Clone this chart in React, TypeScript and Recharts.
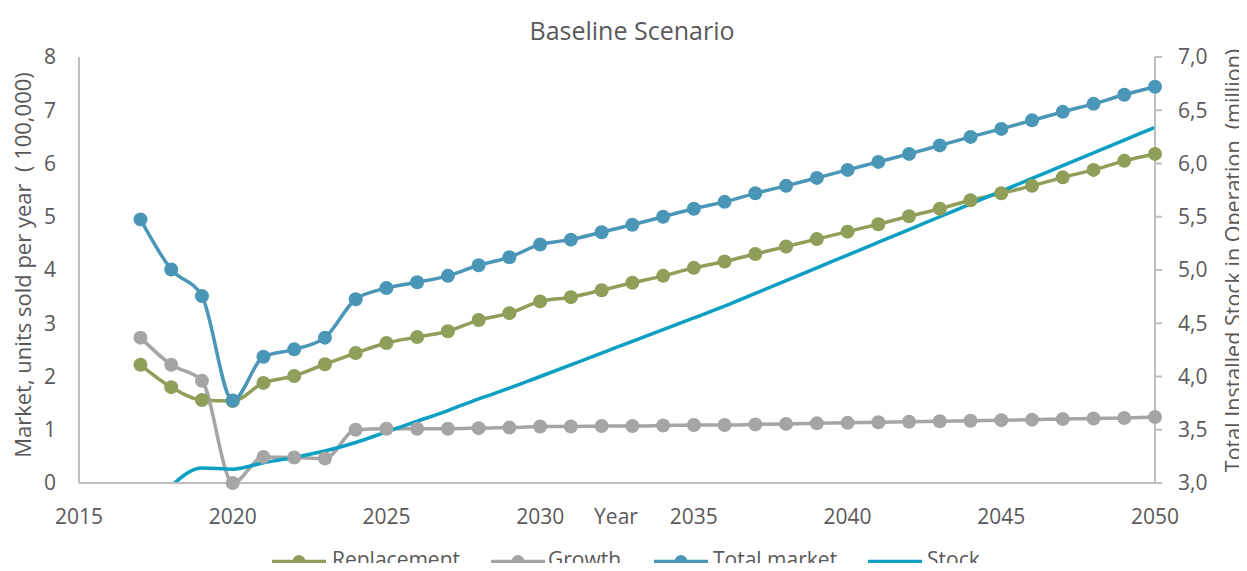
import React from 'react';
import { LineChart, Line, XAxis, YAxis, Legend } from 'recharts';

// ---------- data ----------
const years = [
  2017, 2018, 2019, 2020, 2021, 2022, 2023, 2024, 2025, 2026, 2027, 2028,
  2029, 2030, 2031, 2032, 2033, 2034, 2035, 2036, 2037, 2038, 2039, 2040,
  2041, 2042, 2043, 2044, 2045, 2046, 2047, 2048, 2049, 2050,
];

// Market, units sold per year (100,000)
const replacement = [
  2.22, 1.8, 1.56, 1.54, 1.88, 2.01, 2.23, 2.44, 2.63, 2.74, 2.85, 3.06,
  3.19, 3.41, 3.49, 3.62, 3.76, 3.89, 4.04, 4.16, 4.3, 4.44, 4.58, 4.72,
  4.86, 5.01, 5.15, 5.31, 5.44, 5.58, 5.74, 5.88, 6.05, 6.18,
];

const growth = [
  2.73, 2.22, 1.92, 0.0, 0.49, 0.48, 0.46, 1.0, 1.02, 1.02, 1.02, 1.03,
  1.04, 1.06, 1.06, 1.07, 1.07, 1.08, 1.09, 1.09, 1.1, 1.11, 1.12, 1.13,
  1.14, 1.15, 1.16, 1.17, 1.18, 1.19, 1.2, 1.21, 1.22, 1.24,
];

const totalMarket = [
  4.95, 4.01, 3.51, 1.55, 2.37, 2.51, 2.73, 3.45, 3.66, 3.77, 3.89, 4.09,
  4.24, 4.48, 4.57, 4.71, 4.85, 5.0, 5.15, 5.28, 5.44, 5.58, 5.73, 5.88,
  6.03, 6.18, 6.34, 6.5, 6.65, 6.81, 6.97, 7.12, 7.29, 7.44,
];

// Total installed stock in operation (million)
const stock = [
  2.6, 2.97, 3.14, 3.13, 3.19, 3.24, 3.3, 3.38, 3.48, 3.58, 3.68, 3.79,
  3.89, 4.0, 4.11, 4.22, 4.33, 4.44, 4.55, 4.66, 4.78, 4.9, 5.02, 5.14,
  5.26, 5.38, 5.5, 5.62, 5.74, 5.86, 5.98, 6.1, 6.22, 6.34,
];

const xTicks = [2015, 2020, 2025, 2030, 2035, 2040, 2045, 2050];
const leftTicks = [0, 1, 2, 3, 4, 5, 6, 7, 8];
const rightTicks = [3, 3.5, 4, 4.5, 5, 5.5, 6, 6.5, 7];

const titleText = 'Baseline Scenario';
const leftAxisTitle = 'Market, units sold per year  ( 100,000)';
const rightAxisTitle = 'Total Installed Stock in Operation  (million)';
const xAxisTitle = 'Year';

const seriesInfo = [
  { key: 'replacement', name: 'Replacement', color: '#8F9E58', dot: true, axis: 'left' },
  { key: 'growth', name: 'Growth', color: '#A5A5A5', dot: true, axis: 'left' },
  { key: 'total', name: 'Total market', color: '#4A96B7', dot: true, axis: 'left' },
  { key: 'stock', name: 'Stock', color: '#0BA0C3', dot: false, axis: 'right' },
];

const data = years.map((year, i) => ({
  year,
  replacement: replacement[i],
  growth: growth[i],
  total: totalMarket[i],
  stock: stock[i],
}));

// ---------- layout ----------
const W = 1231;
const H = 555;
const FONT = "'Open Sans', 'Noto Sans', sans-serif";
const TEXT = '#595959';
const AXIS = '#BFBFBF';

const tickStyle = { fill: TEXT, fontSize: 21, fontFamily: FONT };

const legendPos = [
  { icon: 264, text: 324 },
  { icon: 483, text: 540 },
  { icon: 646, text: 705 },
  { icon: 860, text: 919 },
];

const renderLegend = () => (
  <svg width={W} height={30} style={{ display: 'block', overflow: 'visible' }}>
    {seriesInfo.map((s, i) => (
      <g key={s.key}>
        <line
          x1={legendPos[i].icon}
          x2={legendPos[i].icon + 54}
          y1={20.5}
          y2={20.5}
          stroke={s.color}
          strokeWidth={3.5}
        />
        {s.dot && <circle cx={legendPos[i].icon + 27} cy={20.5} r={6.5} fill={s.color} />}
        <text x={legendPos[i].text} y={25.5} fill={TEXT} fontSize={21} fontFamily={FONT}>
          {s.name}
        </text>
      </g>
    ))}
  </svg>
);

export default function App() {
  return (
    <div style={{ position: 'relative', width: W, height: H, fontFamily: FONT }}>
      <style>{'html,body{overflow:hidden}'}</style>
      <LineChart
        width={W}
        height={H}
        data={data}
        margin={{ top: 49, right: 0, bottom: 0, left: 0 }}
      >
        <XAxis
          dataKey="year"
          type="number"
          domain={[2015, 2050]}
          ticks={xTicks}
          interval={0}
          tickLine={false}
          tickSize={0}
          tickMargin={26}
          height={50}
          axisLine={{ stroke: AXIS, strokeWidth: 2 }}
          tick={tickStyle}
        />
        <YAxis
          yAxisId="left"
          domain={[0, 8]}
          ticks={leftTicks}
          interval={0}
          width={71}
          tickLine={false}
          tickSize={0}
          tickMargin={23}
          axisLine={{ stroke: AXIS, strokeWidth: 2 }}
          tick={tickStyle}
        />
        <YAxis
          yAxisId="right"
          orientation="right"
          domain={[3, 7]}
          allowDataOverflow
          ticks={rightTicks}
          interval={0}
          width={84}
          tickSize={7}
          tickMargin={16}
          tickLine={{ stroke: AXIS, strokeWidth: 2 }}
          axisLine={{ stroke: AXIS, strokeWidth: 2 }}
          tick={tickStyle}
          tickFormatter={(v: number) => v.toFixed(1).replace('.', ',')}
        />
        <Legend
          verticalAlign="bottom"
          content={renderLegend}
          wrapperStyle={{ left: 0, bottom: -8, width: W, height: 30 }}
        />
        {seriesInfo.map((s) => (
          <Line
            key={s.key}
            yAxisId={s.axis}
            dataKey={s.key}
            name={s.name}
            type="monotone"
            stroke={s.color}
            strokeWidth={3.5}
            dot={s.dot ? { r: 7, fill: s.color, stroke: s.color, strokeWidth: 0 } : false}
            activeDot={false}
            isAnimationActive={false}
          />
        ))}
      </LineChart>
      <svg
        width={W}
        height={H}
        style={{
          position: 'absolute',
          left: 0,
          top: 0,
          pointerEvents: 'none',
          overflow: 'visible',
        }}
      >
        <text x={624} y={31.6} textAnchor="middle" fill={TEXT} fontSize={25} fontFamily={FONT}>
          {titleText}
        </text>
        <text
          x={23}
          y={257}
          transform="rotate(-90, 23, 257)"
          textAnchor="middle"
          fill={TEXT}
          fontSize={22}
          fontFamily={FONT}
          style={{ whiteSpace: 'pre' }}
        >
          {leftAxisTitle}
        </text>
        <text
          x={1233}
          y={252.5}
          transform="rotate(-90, 1233, 252.5)"
          textAnchor="middle"
          fill={TEXT}
          fontSize={21.5}
          fontFamily={FONT}
          style={{ whiteSpace: 'pre' }}
        >
          {rightAxisTitle}
        </text>
        <text x={608} y={516.3} textAnchor="middle" fill={TEXT} fontSize={21} fontFamily={FONT}>
          {xAxisTitle}
        </text>
      </svg>
    </div>
  );
}
